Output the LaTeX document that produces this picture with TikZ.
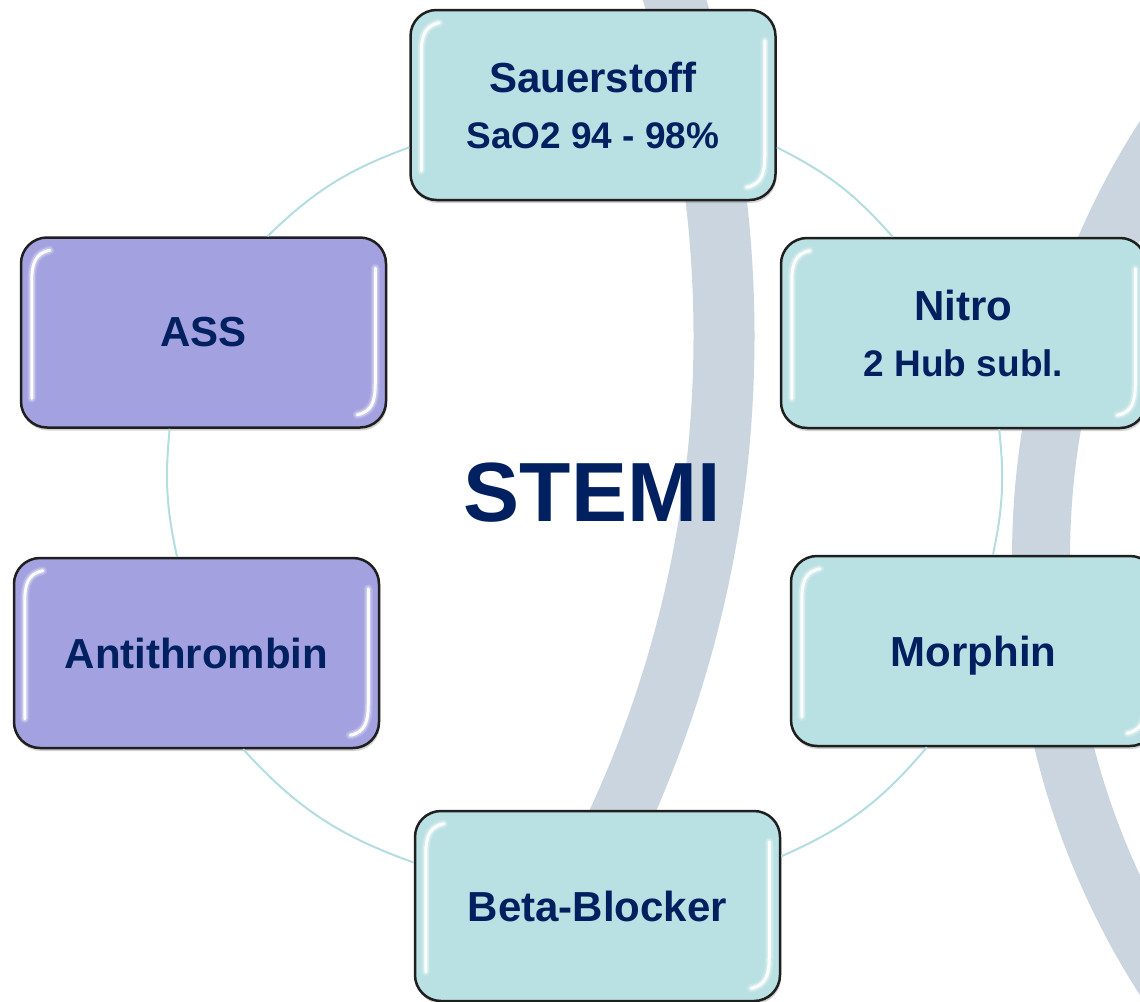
\documentclass[tikz,border=0pt]{standalone}
\usepackage{fontspec}
\setmainfont{Liberation Sans}
\usetikzlibrary{calc,shadows}
\definecolor{navy}{HTML}{002060}
\definecolor{boxteal}{HTML}{B9E0E2}
\definecolor{boxpurple}{HTML}{A4A1E0}
\definecolor{bandc}{HTML}{CBD5E0}
\definecolor{ringc}{HTML}{B3DDE0}
\tikzset{
  card/.style={draw=black!88, line width=2.5pt, rounded corners=26pt,
    minimum width=365pt, minimum height=190pt, inner sep=0pt, align=center,
    text=navy, font=\bfseries\fontsize{42}{56}\selectfont,
    drop shadow={shadow xshift=1pt, shadow yshift=-3pt, opacity=0.35}},
  tealcard/.style={card, fill=boxteal},
  purplecard/.style={card, fill=boxpurple},
  ring/.style={draw=ringc, line width=2pt},
  bandarc/.style={draw=bandc, line width=61pt},
  shineA/.style={draw=white, line width=9pt, line cap=round, opacity=0.15},
  shineB/.style={draw=white, line width=6pt, line cap=round, opacity=0.3},
  shineC/.style={draw=white, line width=3pt, line cap=round, opacity=0.95},
}
\newcommand\boxgloss[1]{%
  \foreach \st in {shineA,shineB,shineC}{%
    \draw[\st] ([shift={(30,14)}]#1.north west) .. controls ([shift={(15,17)}]#1.north west) and ([shift={(12,28)}]#1.north west) .. ([shift={(12,45)}]#1.north west) -- ([shift={(12,162)}]#1.north west);
    \draw[\st] ([shift={(-12,32)}]#1.north east) -- ([shift={(-12,-45)}]#1.south east) .. controls ([shift={(-12,-28)}]#1.south east) and ([shift={(-15,-17)}]#1.south east) .. ([shift={(-30,-14)}]#1.south east);
  }%
}
\begin{document}
\begin{tikzpicture}[x=1pt, y=-1pt]
  \useasboundingbox (0,0) rectangle (1140,1001);
  \clip (0,0) rectangle (1140,1001);
  \fill[white] (0,0) rectangle (1140,1001);
  % background bands
  \draw[bandarc] (-437,336) circle[radius=1161];
  \draw[bandarc, line width=58pt] (1822,558) circle[radius=781];
  % boxes
  \node[tealcard] (sauer) at (593,105) {Sauerstoff\\{\fontsize{37}{56}\selectfont SaO2 94 - 98\%}};
  \node[tealcard] (nitro) at (963.5,333) {Nitro\\{\fontsize{37}{56}\selectfont 2 Hub subl.}};
  \node[tealcard, text depth=0pt] (morphin) at (973.5,651) {Morphin};
  \node[tealcard] (beta) at (597.5,906) {Beta-Blocker};
  \node[purplecard] (anti) at (196.5,653) {Antithrombin};
  \node[purplecard] (ass) at (203.5,332.5) {ASS};
  % ring connectors
  \draw[ring] ($(ass.north west)!0.674!(ass.north east)$) to[bend left=12] ($(sauer.north west)!0.72!(sauer.south west)$);
  \draw[ring] ($(sauer.north east)!0.72!(sauer.south east)$) to[bend left=11] ($(nitro.north west)!0.307!(nitro.north east)$);
  \draw[ring] ($(nitro.south west)!0.597!(nitro.south east)$) to[bend left=9] ($(morphin.north west)!0.553!(morphin.north east)$);
  \draw[ring] ($(morphin.south west)!0.373!(morphin.south east)$) to[bend left=13] ($(beta.north east)!0.242!(beta.south east)$);
  \draw[ring] ($(beta.north west)!0.274!(beta.south west)$) to[bend left=14] ($(anti.south west)!0.627!(anti.south east)$);
  \draw[ring] ($(anti.north west)!0.447!(anti.north east)$) to[bend left=9] ($(ass.south west)!0.408!(ass.south east)$);
  % gloss
  \boxgloss{sauer}
  \boxgloss{nitro}
  \boxgloss{morphin}
  \boxgloss{beta}
  \boxgloss{anti}
  \boxgloss{ass}
  % centre title
  \node[text=navy, font=\bfseries\fontsize{84}{90}\selectfont, inner sep=0pt] (stemi) at (592,493) {STEMI};
\end{tikzpicture}
\end{document}
